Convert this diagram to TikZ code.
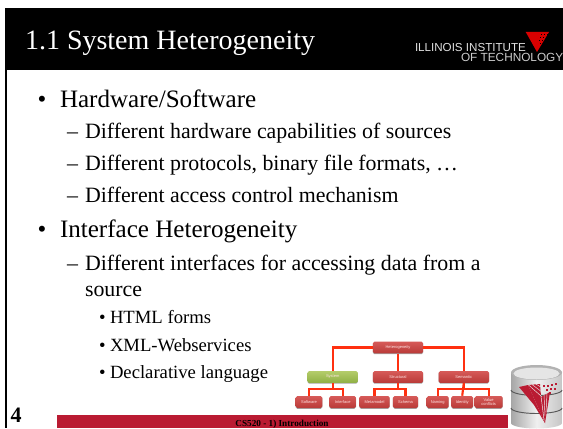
\documentclass[tikz,border=0pt]{standalone}
\usepackage{fontspec}
\setmainfont{Liberation Serif}
\newfontfamily\logofont{Liberation Sans}
\usetikzlibrary{shadows,calc}
\definecolor{iitred}{HTML}{BA1B32}
\definecolor{boxtop}{HTML}{D65A58}
\definecolor{boxbot}{HTML}{B93A38}
\definecolor{greentop}{HTML}{B4CC6A}
\definecolor{greenbot}{HTML}{8FB044}
\definecolor{linkred}{HTML}{FF3010}
\tikzset{
  x=0.75pt,y=-0.75pt,
  txt/.style={anchor=base west,inner sep=0pt,outer sep=0pt,text=black},
  lone/.style={txt,font=\fontsize{18.8}{20}\selectfont},
  ltwo/.style={txt,font=\fontsize{16.4}{18}\selectfont},
  lthree/.style={txt,font=\fontsize{14}{16}\selectfont},
  mark1/.style={anchor=base,inner sep=0pt,font=\fontsize{18.8}{20}\selectfont},
  hbox/.style={rounded corners=1.2pt,top color=boxtop,bottom color=boxbot,inner sep=0pt,
    text=white!90!red,align=center,
    drop shadow={shadow xshift=0pt,shadow yshift=-0.6pt,opacity=.35,fill=black},
    font=\logofont\fontsize{3}{3.4}\selectfont},
  gbox/.style={hbox,top color=greentop,bottom color=greenbot},
  big/.style={minimum width=37.8pt,minimum height=8.8pt},
  leaf/.style={minimum height=9pt},
  link/.style={draw=linkred,line width=1.6pt},
}
\begin{document}
\begin{tikzpicture}
\useasboundingbox (0,0) rectangle (563,428);
\fill[white] (0,0) rectangle (563,428);
% frame
\fill[black] (5,8) rectangle (563,70);
\fill[black] (5,70) rectangle (7,428);
\fill[iitred] (57,415) rectangle (508,428);
% title
\node[txt,text=white,font=\fontsize{21}{24}\selectfont] (title) at (25,50) {1.1 System Heterogeneity};
% logo
\node[txt,text=white!88!black,font=\logofont\fontsize{8.7}{9}\selectfont] (logoa) at (415,51.5) {ILLINOIS INSTITUTE};
\node[txt,text=white!80!black,font=\logofont\fontsize{8.85}{9}\selectfont] (logob) at (461,62) {OF TECHNOLOGY};
\fill[red!85!black] (525.7,32) -- (549,32) -- (537,52) -- cycle;
\foreach \a/\b in {541/34,544/34,547/34,540/37,543/37,546/37,539/40,542/40,540/43}
  \fill[black] (\a,\b) rectangle ++(1,1);
% bullets and text
\node[mark1] (b1) at (42,107) {•};
\node[lone] (t1) at (60,107) {Hardware/Software};
\node[ltwo] (d1) at (67,138) {–};
\node[ltwo] (t2) at (85,138) {Different hardware capabilities of sources};
\node[ltwo] (d2) at (67,170) {–};
\node[ltwo] (t3) at (85,170) {Different protocols, binary file formats, …};
\node[ltwo] (d3) at (67,202) {–};
\node[ltwo] (t4) at (85,202) {Different access control mechanism};
\node[mark1] (b2) at (42,237) {•};
\node[lone] (t5) at (60,237) {Interface Heterogeneity};
\node[ltwo] (d4) at (67,270) {–};
\node[ltwo] (t6) at (85,270) {Different interfaces for accessing data from a};
\node[ltwo] (t7) at (85,296) {source};
\node[lthree] (b3) at (99,323) {•};
\node[lthree] (t8) at (110,323) {HTML forms};
\node[lthree] (b4) at (99,351) {•};
\node[lthree] (t9) at (110,351) {XML-Webservices};
\node[lthree] (b5) at (99,378) {•};
\node[lthree] (t10) at (110,378) {Declarative language};
% page and footer
\node[txt,font=\bfseries\fontsize{16.5}{18}\selectfont] (num) at (10.5,422) {4};
\node[anchor=base,inner sep=0pt,font=\bfseries\fontsize{6.9}{7}\selectfont] (foot) at (282,426.5) {CS520 - 1) Introduction};
% chart boxes
\node[hbox,big] (het) at (398,347.5) {Heterogeneity};
\node[gbox,big] (sys) at (332.7,377) {System};
\node[hbox,big] (str) at (398,377) {Structural};
\node[hbox,big] (sem) at (463.8,377) {Semantic};
\node[hbox,leaf,minimum width=20pt] (soft) at (309,402) {Software};
\node[hbox,leaf,minimum width=20pt] (intf) at (342.7,402) {Interface};
\node[hbox,leaf,minimum width=22.8pt] (meta) at (374.5,402) {Metamodel};
\node[hbox,leaf,minimum width=18.8pt] (sche) at (405.5,402) {Schema};
\node[hbox,leaf,minimum width=16.5pt] (nami) at (437.7,402) {Naming};
\node[hbox,leaf,minimum width=16.3pt] (iden) at (462.2,402) {Identity};
\node[hbox,leaf,minimum width=21pt] (valu) at (488.7,402) {Value\\conflicts};
% connectors
\draw[link] (het.west) -| (sys.north);
\draw[link] (het.south) -- (str.north);
\draw[link] (het.east) -| (sem.north);
\draw[link] (sys.south) -- ++(0,6) -| (soft.north);
\draw[link] (sys.south) -- ++(0,6) -| (intf.north);
\draw[link] (str.south) -- ++(0,6) -| (meta.north);
\draw[link] (str.south) -- ++(0,6) -| (sche.north);
\draw[link] (sem.south) -- ++(0,6) -| (nami.north);
\draw[link] (sem.south) -- (iden.north);
\draw[link] (sem.south) -- ++(0,6) -| (valu.north);
% database icon
\shade[left color=gray!70,right color=gray!45,middle color=white!88!gray] (511,372) -- (511,423) arc[start angle=180,end angle=360,x radius=25.5,y radius=-5.5] -- (562,372) -- cycle;
\draw[black!65,line width=0.7pt] (511,390) arc[start angle=180,end angle=360,x radius=25.5,y radius=-5.5];
\draw[black!65,line width=0.7pt] (511,408) arc[start angle=180,end angle=360,x radius=25.5,y radius=-5.5];
\fill[gray!60] (536.5,372.5) ellipse[x radius=25.5,y radius=7.5];
\fill[gray!20] (536.5,373.5) ellipse[x radius=23,y radius=6];
% logo on the database
\fill[iitred] (519,387) -- (528,385) -- (545,423) -- (534,405) -- cycle;
\fill[iitred] (528,385) -- (540,384) -- (541,396) -- (545,423) -- cycle;
\fill[iitred] (541,397) -- (550,392) -- (545,423) -- cycle;
\draw[white!85!gray,line width=0.35pt] (528,384.5) -- (541,396) (532,384.5) -- (542,392) (536,384) -- (544,389) (541,396) -- (544,420) (544,395) -- (545,416) (547,393.5) -- (546,412);
\foreach \a/\b in {543/385,547/384.5,551/384,555/383,546/389,550/388,554/388,549/392}
  \fill[iitred] (\a,\b) rectangle ++(2.4,2.4);
\end{tikzpicture}
\end{document}
